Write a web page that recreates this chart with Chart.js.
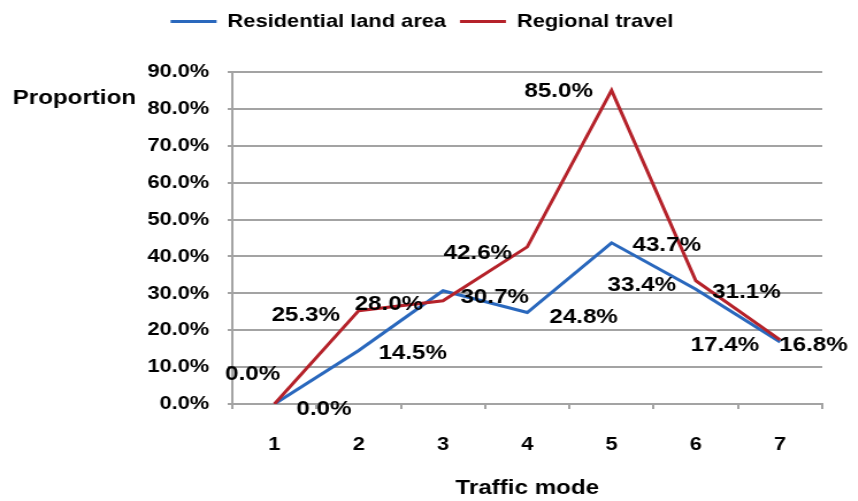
<!DOCTYPE html>
<html>
<head>
<meta charset="utf-8">
<script src="https://cdn.jsdelivr.net/npm/chart.js"></script>
<style>
    html, body { margin: 0; padding: 0; background: #fff; overflow: hidden; }
    /* the original picture is a bit wider than tall text would be, so stretch the canvas */
    #myChart { display: block; transform: scaleX(1.15); transform-origin: 0 0; }
</style>
</head>
<body>
<canvas id="myChart" width="746" height="501"></canvas>

<script>
    // data
    const modes = ['1', '2', '3', '4', '5', '6', '7']
    const residential = [0.0, 14.5, 30.7, 24.8, 43.7, 31.1, 16.8]
    const regional = [0.0, 25.3, 28.0, 42.6, 85.0, 33.4, 17.4]
    const yMax = 90
    const yStep = 10

    // where each value label sits relative to its point [dx, dy]
    const residentialShift = [[43, 5], [47, 3], [45, 6], [49, 5], [48, 2], [44, 3], [29, 3]]
    const regionalShift = [[-19, -30], [-46, 5], [-47, 3], [-43, 6], [-46, 1], [-47, 4], [-48, 5]]

    const fontFamily = '"Liberation Sans", Arial, sans-serif'
    const blue = '#2a68bd'
    const red = '#b5222a'
    const gridColor = '#a3a3a3'

    const valueLabels = {
        id: 'valueLabels',
        afterDatasetsDraw(chart) {
            const ctx = chart.ctx
            ctx.save()
            ctx.fillStyle = '#000'
            ctx.font = 'bold 21px ' + fontFamily
            ctx.textAlign = 'center'
            ctx.textBaseline = 'middle'
            chart.data.datasets.forEach((ds, i) => {
                const meta = chart.getDatasetMeta(i)
                meta.data.forEach((pt, j) => {
                    const s = ds.labelShift[j]
                    ctx.fillText(ds.data[j].toFixed(1) + '%', pt.x + s[0], pt.y + s[1])
                })
            })
            // y caption is horizontal in the original
            ctx.textAlign = 'left'
            ctx.fillText('Proportion', 11, 98)
            ctx.restore()
        }
    }

    // extra room between legend and plot
    const legendGap = {
        id: 'legendGap',
        beforeInit(chart) {
            const fit = chart.legend.fit
            chart.legend.fit = function () {
                fit.bind(chart.legend)()
                this.height += 31
            }
        }
    }

    Chart.defaults.font.family = fontFamily
    Chart.defaults.font.weight = 'bold'
    Chart.defaults.color = '#000'

    const config = {
        type: 'line',
        data: {
            labels: modes,
            datasets: [
                {
                    label: 'Residential land area',
                    data: residential,
                    labelShift: residentialShift,
                    borderColor: blue,
                    backgroundColor: blue,
                    borderWidth: 3,
                    pointRadius: 0,
                    tension: 0,
                    order: 1
                },
                {
                    label: 'Regional travel',
                    data: regional,
                    labelShift: regionalShift,
                    borderColor: red,
                    backgroundColor: red,
                    borderWidth: 3,
                    pointRadius: 0,
                    tension: 0,
                    order: 0
                }
            ]
        },
        options: {
            responsive: false,
            animation: false,
            devicePixelRatio: 1,
            layout: {
                padding: { top: 0, left: 19, right: 31, bottom: 0 }
            },
            plugins: {
                tooltip: { enabled: false },
                legend: {
                    reverse: true,
                    labels: {
                        usePointStyle: true,
                        pointStyle: 'line',
                        pointStyleWidth: 40,
                        padding: 12,
                        font: { size: 19, weight: 'bold' }
                    }
                }
            },
            scales: {
                x: {
                    offset: true,
                    grid: {
                        display: true,
                        drawOnChartArea: false,
                        offset: true,
                        tickLength: 5,
                        color: gridColor,
                        lineWidth: 2
                    },
                    border: { color: gridColor, width: 2 },
                    ticks: { font: { size: 19 }, padding: 24 },
                    title: {
                        display: true,
                        text: 'Traffic mode',
                        font: { size: 21, weight: 'bold' },
                        padding: { top: 0, bottom: 0 }
                    },
                    afterFit: (scale) => { scale.height = 97 }
                },
                y: {
                    min: 0,
                    max: yMax,
                    grid: {
                        color: gridColor,
                        lineWidth: 2,
                        tickLength: 4
                    },
                    border: { color: gridColor, width: 2 },
                    ticks: {
                        stepSize: yStep,
                        font: { size: 19 },
                        padding: 16,
                        callback: (v) => v.toFixed(1) + '%'
                    },
                    afterFit: (scale) => { scale.width = 183 }
                }
            }
        },
        plugins: [valueLabels, legendGap]
    }

    window.addEventListener('DOMContentLoaded', () => {
        new Chart(document.getElementById('myChart'), config)
    })
</script>
</body>
</html>
